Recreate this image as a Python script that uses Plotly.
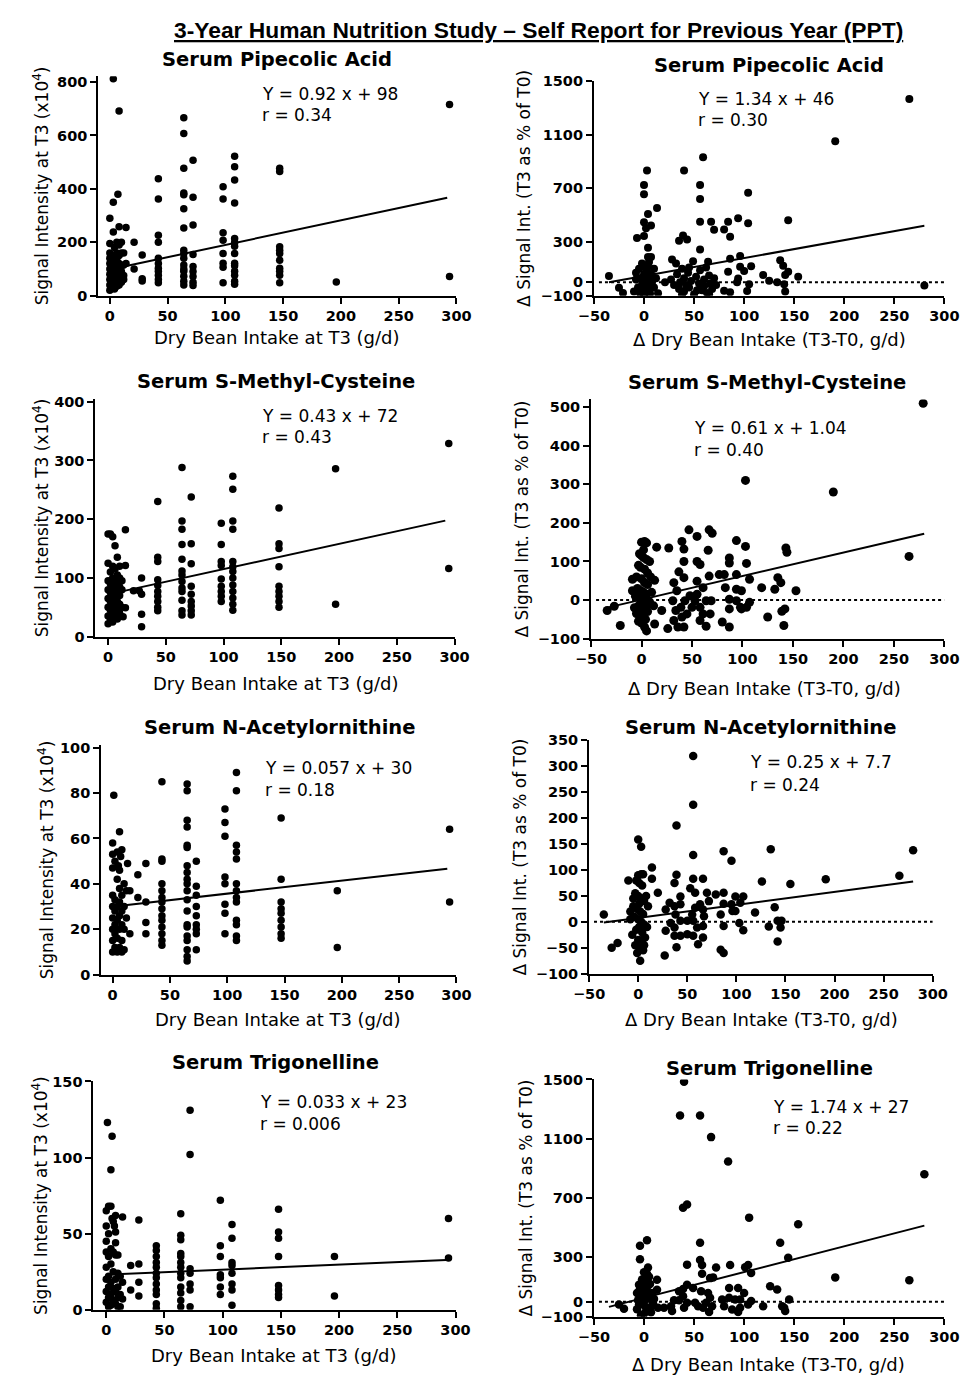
import plotly.graph_objects as go

W, H = 971, 1382
FONT = "DejaVu Sans"

# ---------------- data ----------------
main_title = "3-Year Human Nutrition Study – Self Report for Previous Year (PPT)"
panel_titles = ["Serum Pipecolic Acid", "Serum Pipecolic Acid",
                "Serum S-Methyl-Cysteine", "Serum S-Methyl-Cysteine",
                "Serum N-Acetylornithine", "Serum N-Acetylornithine",
                "Serum Trigonelline", "Serum Trigonelline"]
slopes = [0.92, 1.34, 0.43, 0.61, 0.057, 0.25, 0.033, 1.74]
intercepts = [98, 46, 72, 1.04, 30, 7.7, 23, 27]
slope_labels = ["0.92", "1.34", "0.43", "0.61", "0.057", "0.25", "0.033", "1.74"]
intercept_labels = ["98", "46", "72", "1.04", "30", "7.7", "23", "27"]
r_labels = ["0.34", "0.30", "0.43", "0.40", "0.18", "0.24", "0.006", "0.22"]
fit_x_left = [3, 292]
fit_x_right = [-35, 280]

x_title_left = "Dry Bean Intake at T3 (g/d)"
x_title_right = "Δ Dry Bean Intake (T3-T0, g/d)"
y_title_left = "Signal Intensity at T3 (x10<sup>4</sup>)"
y_title_right = "Δ Signal Int. (T3 as % of T0)"

x_ticks_left = [0, 50, 100, 150, 200, 250, 300]
x_ticks_right = [-50, 0, 50, 100, 150, 200, 250, 300]
y_ticks = [
    [0, 200, 400, 600, 800],
    [-100, 0, 300, 700, 1100, 1500],
    [0, 100, 200, 300, 400],
    [-100, 0, 100, 200, 300, 400, 500],
    [0, 20, 40, 60, 80, 100],
    [-100, -50, 0, 50, 100, 150, 200, 250, 300, 350],
    [0, 50, 100, 150],
    [-100, 0, 300, 700, 1100, 1500],
]

# Pipecolic acid, T3 (intake -> signal values)
pip_t3 = {
    0: [20, 40, 60, 80, 100, 120, 140, 160, 195, 290],
    2: [30, 50, 70, 90, 110, 130, 150],
    3: [812, 350, 238],
    4: [25, 45, 65, 85, 105, 125, 145, 180],
    6: [35, 55, 75, 95, 115, 135, 160, 200],
    7: [380],
    8: [692, 258, 40, 60, 80, 100, 120, 150, 190],
    10: [50, 70, 90, 110, 160, 200],
    12: [60, 75, 115, 160],
    14: [255, 120],
    21: [200, 100],
    28: [152, 63, 55],
    42: [438, 362, 226, 200, 140, 120, 103, 91, 76, 60, 48],
    64: [666, 607, 477, 384, 378, 325, 253, 170, 158, 140, 115, 100, 91, 73, 54, 40],
    72: [507, 369, 265, 154, 109, 90, 72, 50, 38],
    98: [408, 362, 236, 207, 158, 121, 106, 48],
    108: [522, 483, 433, 347, 214, 199, 185, 158, 121, 112, 91, 76, 54, 43],
    147: [477, 465, 183, 170, 158, 133, 103, 91, 76, 48],
    196: [51],
    294: [716, 72],
}

# Pipecolic acid, change (delta intake, delta signal %)
pip_delta = [
    (265, 1367), (191, 1051), (280, -25), (59, 933), (40, 834), (3, 834), (0, 726), (0, 657),
    (56, 726), (56, 620), (104, 667), (13, 553), (4, 509), (0, 447), (94, 477), (84, 452),
    (67, 452), (56, 452), (104, 440), (144, 462), (70, 391), (80, 393), (86, 339), (7, 423),
    (2, 403), (0, 344), (-7, 329), (39, 349), (43, 319), (35, 309), (4, 258), (56, 245),
    (4, 189), (7, 189), (28, 169), (32, 139), (49, 157), (64, 152), (86, 176), (96, 196),
    (136, 164), (139, 122), (107, 120), (96, 115), (84, 78), (100, 83), (144, 78), (141, 53),
    (119, 53), (154, 41), (125, 11), (133, 0), (140, -16), (105, -15), (103, -65), (141, -70),
    (86, -75), (80, -63), (94, 28), (93, -1), (-35, 46), (-25, -41), (-21, -80), (14, -82),
    (21, 0), (-8, 70), (-8, 20), (-6, -40), (-5, 100), (-4, -80), (-3, 30), (-2, 140),
    (-2, -20), (0, -90), (0, 60), (0, 10), (0, -50), (1, 110), (1, -10), (2, 40), (2, -70),
    (3, 80), (3, -30), (4, 0), (5, 150), (5, -60), (6, 20), (7, 60), (8, -20), (10, 100),
    (10, -40), (12, 30), (-10, -70), (4, 120), (6, -85), (27, 20), (30, -20), (33, 60),
    (35, -50), (36, 0), (38, 100), (40, 30), (40, -70), (42, -20), (44, 70), (45, -40),
    (47, 10), (50, -90), (52, 40), (55, -10), (56, 90), (58, -60), (60, 20), (60, -30),
    (62, 110), (63, -80), (65, 50), (66, -10), (68, -50), (70, 30), (72, -20), (45, 110),
    (38, -90), (53, -60), (65, -90),
]

# S-Methyl-Cysteine, T3
smc_t3 = {
    0: [22, 35, 50, 65, 80, 95, 125, 175],
    2: [30, 45, 60, 75, 90, 110, 175],
    4: [25, 40, 55, 70, 85, 100, 120, 170],
    6: [35, 50, 65, 80, 95, 115, 155],
    8: [30, 45, 60, 75, 90, 105, 135],
    10: [40, 55, 70, 85, 100, 120],
    12: [50, 80, 95],
    13: [34],
    15: [182, 121, 49],
    22: [78],
    27: [78],
    29: [100, 72, 38, 17],
    43: [230, 135, 128, 97, 87, 77, 69, 60, 50, 44],
    64: [288, 197, 183, 157, 132, 112, 105, 94, 83, 77, 62, 44, 37],
    72: [238, 158, 124, 86, 72, 60, 52, 44, 37],
    98: [193, 157, 128, 121, 98, 86, 77, 69, 60],
    108: [273, 251, 197, 183, 128, 119, 111, 100, 88, 77, 66, 55, 45],
    148: [219, 158, 150, 119, 86, 77, 69, 60, 50],
    197: [286, 55],
    295: [329, 116],
}

# S-Methyl-Cysteine, change
smc_delta = [
    (279, 510), (265, 113), (190, 280), (103, 310), (47, 182), (55, 165), (67, 182), (70, 173),
    (94, 154), (103, 139), (143, 135), (144, 124), (104, 95), (87, 109), (87, 96), (55, 100),
    (58, 92), (66, 129), (40, 152), (42, 132), (42, 100), (15, 137), (27, 135), (-34, -27),
    (-27, -16), (-21, -66), (-9, 24), (-9, 54), (13, 51), (20, -27), (26, -74), (13, -62),
    (37, 73), (42, 58), (32, 45), (35, 24), (31, -2), (34, -27), (40, -44), (32, -53),
    (36, -70), (42, -70), (45, -36), (39, -19), (43, -2), (48, 11), (50, -19), (55, 49),
    (61, 32), (55, 15), (64, -2), (58, -19), (61, -36), (58, -53), (64, -68), (68, -36),
    (69, -2), (53, -2), (67, 62), (77, 66), (82, 66), (83, 32), (87, 2), (87, -23), (87, -70),
    (80, -57), (94, 66), (94, 28), (99, 24), (94, -2), (98, -19), (99, -23), (104, -19),
    (107, -6), (107, 54), (119, 32), (132, 28), (135, 58), (138, 45), (142, -23), (139, -29),
    (141, -66), (125, -44), (153, 24), (0, 150), (3, 152), (5, 148), (-2, 120), (0, 115),
    (2, 110), (5, 105), (-3, 90), (-1, 85), (3, 80), (6, 70), (-5, 60), (0, 55), (3, 45),
    (6, 40), (-4, 30), (-1, 25), (2, 20), (5, 15), (-6, 10), (-2, 5), (1, 0), (4, -5),
    (7, -10), (-3, -15), (0, -20), (3, -25), (6, -30), (-5, -35), (-2, -40), (1, -45),
    (4, -50), (0, -60), (3, -70), (5, -80), (-3, -55), (8, -5), (10, 20), (12, -15), (9, 60),
    (-7, -20), (2, 130), (8, 100),
]

# N-Acetylornithine, T3
nac_t3 = {
    0: [10, 15, 20, 25, 30, 35, 47, 53, 58],
    1: [79],
    2: [12, 18, 22, 28, 33, 50],
    4: [10, 16, 24, 30, 42, 54],
    5: [48],
    6: [63, 12, 20, 26, 32, 38, 46],
    7: [52],
    8: [10, 15, 22, 28, 35, 55],
    10: [11, 20, 30, 40],
    12: [25, 37],
    13: [49],
    15: [18, 37],
    22: [44, 34],
    29: [49, 32, 23, 18],
    43: [85, 51, 50, 40, 37, 34, 32, 29, 26, 24, 21, 18, 15, 13],
    65: [84, 81, 68, 65, 57, 56, 48, 45, 42, 40, 37, 33, 28, 22, 21, 17, 15, 11, 8, 6],
    73: [50, 39, 35, 30, 26, 22, 20, 18, 11],
    98: [73, 67, 61, 43, 40, 31, 27, 18],
    108: [89, 81, 57, 54, 51, 40, 37, 34, 32, 24, 22, 17, 15],
    147: [69, 42, 32, 29, 27, 24, 21, 18, 16],
    196: [37, 12],
    294: [64, 32],
}

# N-Acetylornithine, change
nac_delta = [
    (56, 320), (56, 226), (39, 186), (0, 159), (3, 145), (56, 129), (87, 136), (95, 118),
    (135, 140), (280, 138), (266, 89), (191, 82), (155, 73), (126, 78), (14, 105), (14, 83),
    (-10, 80), (-35, 14), (-27, -50), (-21, -41), (27, -65), (39, -49), (84, -54), (87, -60),
    (142, -38), (107, -16), (119, 18), (139, 28), (133, -9), (142, 2), (145, -11), (146, 2),
    (99, 49), (107, 49), (104, 37), (103, -2), (96, 21), (95, 34), (99, 21), (87, 56),
    (87, 35), (84, 14), (87, -8), (79, 53), (72, 40), (66, 83), (70, 56), (56, 83), (53, 65),
    (58, 56), (63, 34), (58, 27), (66, 24), (55, 14), (67, 11), (60, -11), (56, 2), (66, -8),
    (66, -30), (61, -43), (56, -27), (50, -24), (37, 75), (39, 91), (43, 49), (32, 37),
    (37, 30), (43, 34), (28, 24), (38, 14), (43, 2), (33, -2), (37, -11), (28, -17),
    (37, -27), (43, -27), (50, 2), (20, 56), (0, 90), (3, 92), (5, 92), (-2, 80), (1, 75),
    (4, 70), (-3, 55), (0, 50), (3, 45), (6, 40), (-5, 30), (-1, 25), (2, 20), (5, 15),
    (-4, 10), (0, 5), (3, 0), (6, -5), (-6, -25), (-2, -15), (1, -10), (4, -20), (7, -30),
    (-3, -45), (0, -35), (3, -50), (6, -45), (-1, -60), (2, -75), (5, -55), (-8, 20), (-8, 5),
    (8, 50), (9, -10), (10, 30), (-5, 45), (1, 35), (4, -35),
]

# Trigonelline, T3
tri_t3 = {
    0: [65, 55, 45, 38, 28, 20, 12, 5],
    1: [123],
    2: [68, 50, 35, 22, 15, 8, 2],
    4: [92, 68, 40, 30, 18, 10, 3],
    5: [114, 60],
    6: [58, 38, 25, 14, 6],
    7: [55],
    8: [62, 51, 44, 36, 20, 12, 4],
    10: [36, 24, 15, 8, 2],
    12: [22, 10, 2],
    14: [61, 18, 7],
    21: [29, 13],
    28: [59, 30, 18, 9],
    43: [42, 39, 35, 31, 28, 24, 21, 17, 13, 10, 4, 1],
    64: [63, 49, 46, 37, 35, 31, 28, 24, 21, 15, 11, 6, 2],
    72: [131, 102, 27, 24, 17, 13, 2],
    98: [72, 42, 35, 23, 21, 15, 10],
    108: [56, 47, 31, 29, 24, 17, 13, 3],
    148: [66, 51, 47, 35, 16, 13, 10, 8],
    196: [35, 9],
    294: [60, 34],
}

# Trigonelline, change
tri_delta = [
    (40, 1484), (36, 1257), (56, 1257), (67, 1111), (84, 946), (280, 861), (39, 634), (43, 657),
    (105, 568), (154, 523), (136, 398), (56, 398), (3, 416), (-4, 378), (-4, 287), (4, 232),
    (144, 298), (43, 251), (56, 283), (58, 249), (72, 232), (86, 249), (101, 234), (104, 249),
    (107, 194), (58, 189), (66, 160), (69, 165), (191, 165), (265, 145), (126, 105), (133, 83),
    (43, 116), (39, 87), (35, 71), (39, 38), (35, 11), (43, -6), (40, -40), (30, 11), (27, -29),
    (20, -40), (14, -40), (28, -62), (49, 94), (57, 71), (64, 60), (66, 27), (62, -6), (59, -40),
    (65, -69), (54, -29), (51, -6), (68, -29), (85, 94), (94, 94), (85, 27), (91, 16), (78, 16),
    (80, -29), (88, -51), (96, -40), (94, -69), (100, 60), (96, 16), (104, -18), (107, 5),
    (119, -29), (138, -29), (141, -62), (145, 16), (140, -40), (-25, -18), (-20, -47), (-5, 116),
    (-7, 60), (13, 149), (13, 82), (9, 16), (0, 200), (3, 190), (5, 170), (-2, 150), (1, 130),
    (4, 110), (-4, 90), (0, 70), (3, 50), (6, 30), (-6, 10), (-2, -10), (1, -30), (4, -50),
    (7, -70), (-3, -90), (0, -80), (3, -60), (6, -40), (-5, -20), (-1, 0), (2, 20), (5, 40),
    (8, 60), (-7, -50), (9, -10), (10, 20), (-3, 40), (2, 90), (6, 120),
]

panels_data = [pip_t3, pip_delta, smc_t3, smc_delta, nac_t3, nac_delta, tri_t3, tri_delta]

# ---------------- layout geometry (pixel boxes: x0, x1, ybottom, ytop) ----------------
boxes = [
    (85, 455, 291, 69), (597, 959, 291, 74),
    (82, 453, 636, 396), (594, 959, 638, 396),
    (88, 455, 978, 746), (592, 947, 977, 741),
    (80, 454, 1317, 1086), (597, 959, 1324, 1084),
]
y_ranges = [[0, 822], [-100, 1500], [0, 404], [-100, 520],
            [0, 101], [-100, 350], [0, 150], [-100, 1500]]
x_ranges = [[-10, 300], [-50, 300], [-11, 300], [-50, 300],
            [-10, 300], [-50, 300], [-11, 300], [-50, 300]]
marker_sizes = [7.5, 8, 7.5, 9, 7.5, 8.5, 7.5, 8.5]
y_title_standoff = [4, 6, 1, 5, 2, 5, 0, 4]

title_pos = [(270, 52), (778, 58), (269, 378), (776, 379), (272, 728), (769, 728), (268, 1067), (778, 1073)]
eq_left = [252, 702, 252, 698, 255, 756, 250, 780]
eq_line1 = [87, 92, 413, 425, 769, 763, 1107, 1112]
eq_line2 = [108, 113, 434, 447, 791, 786, 1129, 1133]
xt_pos = [(270, 333), (778, 335), (269, 683), (773, 688), (271, 1023), (770, 1023), (267, 1363), (777, 1372)]


def fx(px):
    return px / W


def fy(py):
    return 1 - py / H


fig = go.Figure()
annotations = []
shapes = []

for i in range(8):
    n = i + 1
    xa = "x" if n == 1 else f"x{n}"
    ya = "y" if n == 1 else f"y{n}"
    right = (i % 2 == 1)
    data = panels_data[i]
    if isinstance(data, dict):
        xs, ys = [], []
        for k, vals in data.items():
            for v in vals:
                xs.append(k)
                ys.append(v)
    else:
        xs = [p[0] for p in data]
        ys = [p[1] for p in data]

    fig.add_trace(go.Scatter(x=xs, y=ys, mode="markers", xaxis=xa, yaxis=ya,
                             marker=dict(color="black", size=marker_sizes[i], line=dict(width=0)),
                             showlegend=False, hoverinfo="skip"))
    fxs = fit_x_right if right else fit_x_left
    fys = [slopes[i] * v + intercepts[i] for v in fxs]
    fig.add_trace(go.Scatter(x=fxs, y=fys, mode="lines", xaxis=xa, yaxis=ya,
                             line=dict(color="black", width=2), showlegend=False, hoverinfo="skip"))

    if right:
        shapes.append(dict(type="line", xref=xa, yref=ya, x0=-45, x1=300, y0=0, y1=0,
                           line=dict(color="black", width=2, dash="dot")))

    x0, x1, yb, yt = boxes[i]
    tickfont = dict(family=FONT, size=14.5, color="black", weight="bold")
    common = dict(showline=True, linecolor="black", linewidth=2, ticks="outside", ticklen=6,
                  tickwidth=2, tickcolor="black", showgrid=False, zeroline=False, tickfont=tickfont)
    fig.layout["xaxis" if n == 1 else f"xaxis{n}"] = dict(
        domain=[fx(x0), fx(x1)], anchor=ya, range=x_ranges[i],
        tickmode="array", tickvals=x_ticks_right if right else x_ticks_left, **common)
    fig.layout["yaxis" if n == 1 else f"yaxis{n}"] = dict(
        domain=[fy(yb), fy(yt)], anchor=xa, range=y_ranges[i],
        tickmode="array", tickvals=y_ticks[i],
        title=dict(text=y_title_right if right else y_title_left, standoff=y_title_standoff[i],
                   font=dict(family=FONT, size=17, color="black")),
        **common)

    tx, ty = title_pos[i]
    annotations.append(dict(text=panel_titles[i], x=fx(tx), y=fy(ty), xref="paper", yref="paper",
                            xanchor="center", yanchor="middle", showarrow=False,
                            font=dict(family=FONT, size=19.5, color="black", weight="bold")))
    annotations.append(dict(text=f"Y = {slope_labels[i]} x + {intercept_labels[i]}",
                            x=fx(eq_left[i]), y=fy(eq_line1[i]), xref="paper", yref="paper",
                            xanchor="left", yanchor="middle", showarrow=False,
                            font=dict(family=FONT, size=17, color="black")))
    annotations.append(dict(text=f"r = {r_labels[i]}",
                            x=fx(eq_left[i]), y=fy(eq_line2[i]), xref="paper", yref="paper",
                            xanchor="left", yanchor="middle", showarrow=False,
                            font=dict(family=FONT, size=17, color="black")))
    xx, xy = xt_pos[i]
    annotations.append(dict(text=x_title_right if right else x_title_left, x=fx(xx), y=fy(xy),
                            xref="paper", yref="paper", xanchor="center", yanchor="middle",
                            showarrow=False, font=dict(family=FONT, size=18, color="black")))

annotations.append(dict(text=f"<u>{main_title}</u>", x=fx(540), y=fy(22), xref="paper", yref="paper",
                        xanchor="center", yanchor="middle", showarrow=False,
                        font=dict(family="Liberation Sans Narrow, Arial Narrow, sans-serif", size=22.8,
                                  color="black", weight="bold")))

fig.update_layout(width=W, height=H, margin=dict(l=0, r=0, t=0, b=0),
                  paper_bgcolor="white", plot_bgcolor="white",
                  annotations=annotations, shapes=shapes)

fig.write_html("out.html", config={"displayModeBar": False},
               post_script="document.body.style.margin='0';document.body.style.overflow='hidden';")
